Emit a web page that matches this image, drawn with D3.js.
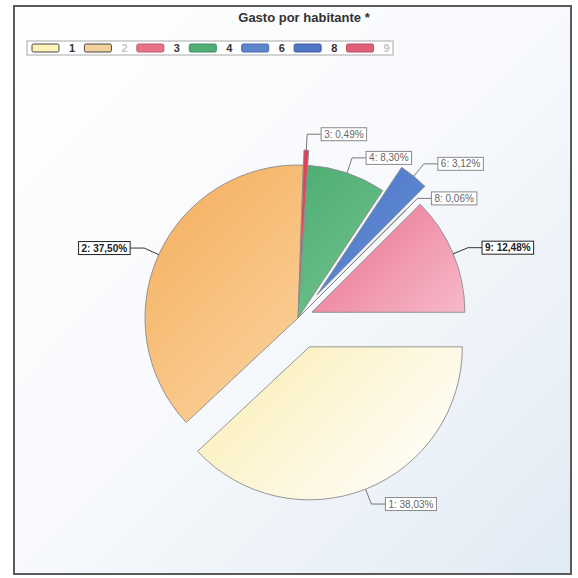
<!DOCTYPE html>
<html>
<head>
<meta charset="utf-8">
<script src="https://cdn.jsdelivr.net/npm/d3@7"></script>
<style>
  html, body { margin: 0; padding: 0; background: #fff; }
  svg { display: block; font-family: "Liberation Sans", Arial, sans-serif; }
</style>
</head>
<body>
<svg id="chart" width="578" height="578"></svg>
<script>
// Gasto por habitante: share of spending per category (%)
const categories = ["1", "2", "3", "4", "6", "8", "9"];
const shares = [38.03, 37.50, 0.49, 8.30, 3.12, 0.06, 12.48];
const chartTitle = "Gasto por habitante *";

// slice appearance
const sliceColors = {
  "1": ["#f8e690", "#fffdf8"],
  "2": ["#f5b060", "#fde2b8"],
  "3": ["#d8304e", "#ee7288"],
  "4": ["#3aa264", "#8dd3a4"],
  "6": ["#3766c0", "#7a9edc"],
  "8": ["#3766c0", "#7a9edc"],
  "9": ["#e23e66", "#fbd4de"]
};
const legendColors = {
  "1": "#fbf3b8", "2": "#f4d29c", "3": "#e8718a", "4": "#4fae73",
  "6": "#5b84cf", "8": "#4f74c4", "9": "#e06079"
};
const pullOut = { "1": 31, "3": 15, "6": 30, "9": 15 };
const fadedLegend = new Set(["2", "9"]);
const boldLabels = new Set(["2", "9"]);

const svg = d3.select("#chart");
const W = 578, H = 578;
const defs = svg.append("defs");

// panel background
const bg = defs.append("linearGradient").attr("id", "bg")
  .attr("x1", "0").attr("y1", "0").attr("x2", "1").attr("y2", "1");
bg.append("stop").attr("offset", "0").attr("stop-color", "#ffffff");
bg.append("stop").attr("offset", "0.5").attr("stop-color", "#f7f9fc");
bg.append("stop").attr("offset", "1").attr("stop-color", "#e1ebf4");

svg.append("rect").attr("width", W).attr("height", H).attr("fill", "#fff");
svg.append("rect")
  .attr("x", 14).attr("y", 6).attr("width", 557).attr("height", 568)
  .attr("fill", "url(#bg)")
  .attr("stroke", "#5a5a5a").attr("stroke-width", 2);

// title
svg.append("text")
  .attr("x", 304).attr("y", 22)
  .attr("text-anchor", "middle")
  .attr("font-size", 13).attr("font-weight", "bold")
  .attr("fill", "#333")
  .text(chartTitle);

// legend
const legend = svg.append("g");
const legX = d3.scaleBand().domain(categories).range([28, 395]).paddingInner(0);
legend.append("rect")
  .attr("x", 27).attr("y", 41).attr("width", 366).attr("height", 14)
  .attr("fill", "#fff").attr("stroke", "#a8a8a8").attr("stroke-width", 1);
const li = legend.selectAll("g.item").data(categories).join("g")
  .attr("class", "item")
  .attr("transform", d => `translate(${legX(d) + 4},48)`);
li.append("rect")
  .attr("x", 0).attr("y", -4).attr("width", 27).attr("height", 8)
  .attr("rx", 1.5)
  .attr("fill", d => legendColors[d])
  .attr("stroke", d => (d === "1" || d === "2") ? "#444" : d3.color(legendColors[d]).darker(0.6))
  .attr("stroke-width", 1);
li.append("text")
  .attr("x", 37).attr("y", 4)
  .attr("font-size", 11).attr("font-weight", "bold")
  .attr("fill", d => fadedLegend.has(d) ? "#c4c4c4" : "#333")
  .text(d => d);

// pie
const cx = 298, cy = 318, R = 153;
const pie = d3.pie().sort(null).value(d => d.v)
  .startAngle(Math.PI / 2).endAngle(Math.PI / 2 + 2 * Math.PI);
const arcs = pie(categories.map((c, i) => ({ c, v: shares[i] })));
const arc = d3.arc().innerRadius(0).outerRadius(R);

// gradients are in each slice's own (pie-centred) coordinates
categories.forEach(c => {
  const g = defs.append("linearGradient").attr("id", "g" + c)
    .attr("gradientUnits", "userSpaceOnUse")
    .attr("x1", -R * 0.9).attr("y1", -R * 0.9).attr("x2", R * 0.8).attr("y2", R * 0.8);
  g.append("stop").attr("offset", "0").attr("stop-color", sliceColors[c][0]);
  g.append("stop").attr("offset", "1").attr("stop-color", sliceColors[c][1]);
});

const mid = d => (d.startAngle + d.endAngle) / 2;
const offset = d => {
  const p = pullOut[d.data.c] || 0, m = mid(d);
  return [p * Math.sin(m), -p * Math.cos(m)];
};

const pieG = svg.append("g").attr("transform", `translate(${cx},${cy})`);
pieG.selectAll("path.slice").data(arcs).join("path")
  .attr("class", "slice")
  .attr("transform", d => { const o = offset(d); return `translate(${o[0]},${o[1]})`; })
  .attr("d", arc)
  .attr("fill", d => `url(#g${d.data.c})`)
  .attr("stroke", "#8a8a8a").attr("stroke-width", 0.9)
  .attr("stroke-linejoin", "round");

// value labels with leader lines
const fmt = v => d3.format(".2f")(v).replace(".", ",") + "%";
const labG = svg.append("g");
arcs.forEach(d => {
  const m = mid(d), o = offset(d);
  const sx = Math.sin(m), sy = -Math.cos(m);
  const p0 = [cx + o[0] + R * sx, cy + o[1] + R * sy];
  const p1 = [cx + o[0] + (R + 16) * sx, cy + o[1] + (R + 16) * sy];
  const right = sx >= 0;
  const p2 = [p1[0] + (right ? 14 : -14), p1[1]];
  const dark = boldLabels.has(d.data.c);

  labG.append("path")
    .attr("d", d3.line()([p0, p1, p2]))
    .attr("fill", "none")
    .attr("stroke", dark ? "#333" : "#777").attr("stroke-width", 1);

  const t = labG.append("text")
    .attr("y", p2[1] + 3.5)
    .attr("font-size", 10)
    .attr("font-weight", dark ? "bold" : "normal")
    .attr("fill", dark ? "#222" : "#666")
    .text(`${d.data.c}: ${fmt(d.data.v)}`);
  const w = t.node().getComputedTextLength();
  const bx = right ? p2[0] : p2[0] - w - 6;
  t.attr("x", bx + 3);
  labG.insert("rect", function () { return t.node(); })
    .attr("x", bx).attr("y", p2[1] - 6.5)
    .attr("width", w + 6).attr("height", 13)
    .attr("fill", "#fff")
    .attr("stroke", dark ? "#222" : "#8a8a8a").attr("stroke-width", 1);
});
</script>
</body>
</html>
